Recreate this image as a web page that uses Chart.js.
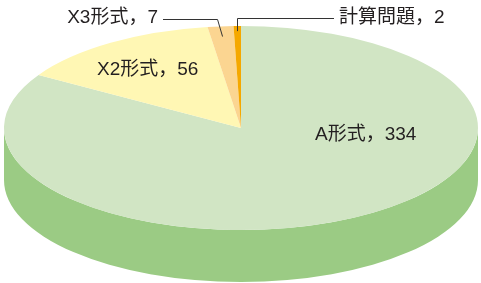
<!DOCTYPE html>
<html>
<head>
<meta charset="utf-8">
<script src="https://cdn.jsdelivr.net/npm/chart.js@4/dist/chart.umd.min.js"></script>
<style>
  html, body { margin: 0; padding: 0; background: #fff; }
  canvas { display: block; }
</style>
</head>
<body>
<canvas id="pie3d" width="481" height="283"></canvas>
<script>
// données du graphique
const labels = ["A形式", "X2形式", "X3形式", "計算問題"];
const values = [334, 56, 7, 2];

// couleurs : dessus et côté de chaque part
const topColors = ["#d1e5c4", "#fff7b4", "#fbd591", "#f5a800"];
const sideColors = ["#9bcb84", "#e6d98a", "#e3b86c", "#d08e00"];

const DEPTH = 52;
const FONT = '19px "Liberation Sans", "Noto Sans CJK JP", sans-serif';
const TEXT_COLOR = "#231f20";

// rayon horizontal = demi-largeur de la zone du graphique
function ellipseOf(chart, el) {
  const area = chart.chartArea;
  const rx = (area.right - area.left) / 2;
  return { cx: el.x, cy: el.y, rx: rx, ry: el.outerRadius };
}

// côté du camembert (seulement la moitié avant est visible)
const sidePlugin = {
  id: "side",
  beforeDatasetsDraw(chart) {
    const ctx = chart.ctx;
    const meta = chart.getDatasetMeta(0);
    meta.data.forEach((el, i) => {
      const g = ellipseOf(chart, el);
      const s = el.startAngle, e = el.endAngle;
      [-2 * Math.PI, 0, 2 * Math.PI].forEach(k => {
        const a = Math.max(s, k), b = Math.min(e, Math.PI + k);
        if (a >= b) return;
        ctx.beginPath();
        ctx.ellipse(g.cx, g.cy, g.rx, g.ry, 0, a, b);
        ctx.ellipse(g.cx, g.cy + DEPTH, g.rx, g.ry, 0, b, a, true);
        ctx.closePath();
        ctx.fillStyle = sideColors[i];
        ctx.fill();
      });
    });
  },
  // aplatir le cercle en ellipse
  beforeDatasetDraw(chart, args) {
    const el = args.meta.data[0];
    const g = ellipseOf(chart, el);
    const ctx = chart.ctx;
    ctx.save();
    ctx.translate(g.cx, g.cy);
    ctx.scale(g.rx / g.ry, 1);
    ctx.translate(-g.cx, -g.cy);
  },
  afterDatasetDraw(chart) {
    chart.ctx.restore();
  }
};

// étiquettes et traits de rappel
const labelPlugin = {
  id: "labels3d",
  afterDatasetsDraw(chart) {
    const ctx = chart.ctx;
    const meta = chart.getDatasetMeta(0);
    const pt = (i, f) => {
      const el = meta.data[i];
      const g = ellipseOf(chart, el);
      const m = (el.startAngle + el.endAngle) / 2;
      return { x: g.cx + g.rx * f * Math.cos(m), y: g.cy + g.ry * f * Math.sin(m) };
    };
    const txt = i => labels[i] + "，" + values[i];

    ctx.save();
    ctx.font = FONT;
    ctx.fillStyle = TEXT_COLOR;
    ctx.textBaseline = "middle";

    ctx.textAlign = "left";
    ctx.fillText(txt(0), 315, 135);
    ctx.fillText(txt(1), 97, 70);

    // X3 : texte à gauche, trait coudé
    ctx.textAlign = "right";
    ctx.fillText(txt(2), 158, 18);
    ctx.strokeStyle = "#333";
    ctx.lineWidth = 1;
    let p = pt(2, 0.9);
    ctx.beginPath();
    ctx.moveTo(163, 19.5);
    ctx.lineTo(p.x - 5, 19.5);
    ctx.lineTo(p.x, p.y);
    ctx.stroke();

    // calcul : texte à droite
    ctx.textAlign = "left";
    ctx.fillText(txt(3), 339, 18);
    p = pt(3, 0.95);
    ctx.beginPath();
    ctx.moveTo(Math.round(p.x) + 0.5, p.y);
    ctx.lineTo(Math.round(p.x) + 0.5, 18.5);
    ctx.lineTo(334, 18.5);
    ctx.stroke();
    ctx.restore();
  }
};

new Chart(document.getElementById("pie3d"), {
  type: "pie",
  data: {
    labels: labels,
    datasets: [{
      data: values,
      backgroundColor: topColors,
      borderWidth: 0,
      clip: false
    }]
  },
  options: {
    responsive: false,
    animation: false,
    layout: { padding: { left: 4, right: 3, top: 26, bottom: 53 } },
    plugins: {
      legend: { display: false },
      tooltip: { enabled: false }
    }
  },
  plugins: [sidePlugin, labelPlugin]
});
</script>
</body>
</html>
